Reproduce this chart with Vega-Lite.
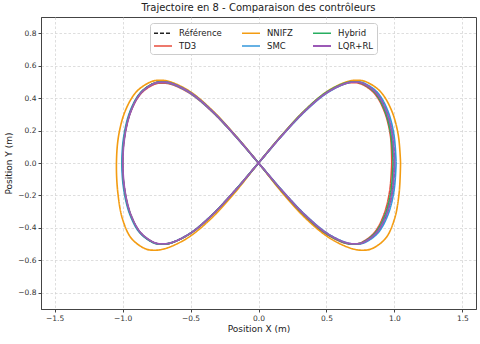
{
  "$schema": "https://vega.github.io/schema/vega-lite/v6.json",
  "width": 435,
  "height": 292,
  "autosize": {"type": "none"},
  "padding": {"left": 41, "top": 17, "right": 4, "bottom": 35},
  "background": "white",
  "title": {"text": "Trajectoire en 8 - Comparaison des contrôleurs", "fontSize": 10, "font": "DejaVu Sans", "fontWeight": "normal", "color": "#222", "offset": 4, "anchor": "middle"},
  "config": {
    "font": "DejaVu Sans",
    "view": {"stroke": "#444", "strokeWidth": 1},
    "axis": {"labelFontSize": 7.5, "labelColor": "#333", "titleFontSize": 9, "titleFontWeight": "normal", "titleColor": "#222", "tickColor": "#444", "tickSize": 3, "domainColor": "#444", "gridColor": "#d0d0d0", "gridDash": [2.5, 2], "gridWidth": 0.7}
  },
  "data": {"values": [
    {"s":"Référence","i":0,"x":1,"y":0},{"s":"Référence","i":1,"x":0.9848,"y":0.171},{"s":"Référence","i":2,"x":0.9397,"y":0.3214},{"s":"Référence","i":3,"x":0.866,"y":0.433},{"s":"Référence","i":4,"x":0.766,"y":0.4924},{"s":"Référence","i":5,"x":0.7071,"y":0.5},{"s":"Référence","i":6,"x":0.6428,"y":0.4924},{"s":"Référence","i":7,"x":0.5,"y":0.433},{"s":"Référence","i":8,"x":0.342,"y":0.3214},{"s":"Référence","i":9,"x":0.1736,"y":0.171},{"s":"Référence","i":10,"x":0,"y":0},{"s":"Référence","i":11,"x":-0.1736,"y":-0.171},{"s":"Référence","i":12,"x":-0.342,"y":-0.3214},{"s":"Référence","i":13,"x":-0.5,"y":-0.433},{"s":"Référence","i":14,"x":-0.6428,"y":-0.4924},{"s":"Référence","i":15,"x":-0.7071,"y":-0.5},{"s":"Référence","i":16,"x":-0.766,"y":-0.4924},{"s":"Référence","i":17,"x":-0.866,"y":-0.433},{"s":"Référence","i":18,"x":-0.9397,"y":-0.3214},{"s":"Référence","i":19,"x":-0.9848,"y":-0.171},{"s":"Référence","i":20,"x":-1,"y":0},{"s":"Référence","i":21,"x":-0.9848,"y":0.171},{"s":"Référence","i":22,"x":-0.9397,"y":0.3214},{"s":"Référence","i":23,"x":-0.866,"y":0.433},{"s":"Référence","i":24,"x":-0.766,"y":0.4924},{"s":"Référence","i":25,"x":-0.7071,"y":0.5},{"s":"Référence","i":26,"x":-0.6428,"y":0.4924},{"s":"Référence","i":27,"x":-0.5,"y":0.433},{"s":"Référence","i":28,"x":-0.342,"y":0.3214},{"s":"Référence","i":29,"x":-0.1736,"y":0.171},{"s":"Référence","i":30,"x":0,"y":0},{"s":"Référence","i":31,"x":0.1736,"y":-0.171},{"s":"Référence","i":32,"x":0.342,"y":-0.3214},{"s":"Référence","i":33,"x":0.5,"y":-0.433},{"s":"Référence","i":34,"x":0.6428,"y":-0.4924},{"s":"Référence","i":35,"x":0.7071,"y":-0.5},{"s":"Référence","i":36,"x":0.766,"y":-0.4924},{"s":"Référence","i":37,"x":0.866,"y":-0.433},{"s":"Référence","i":38,"x":0.9397,"y":-0.3214},{"s":"Référence","i":39,"x":0.9848,"y":-0.171},{"s":"Référence","i":40,"x":1,"y":0},

    {"s":"NNIFZ","i":0,"x":1.045,"y":0},{"s":"NNIFZ","i":1,"x":1.0278,"y":0.1744},{"s":"NNIFZ","i":2,"x":0.977,"y":0.3278},{"s":"NNIFZ","i":3,"x":0.8952,"y":0.4417},{"s":"NNIFZ","i":4,"x":0.7862,"y":0.5022},{"s":"NNIFZ","i":5,"x":0.723,"y":0.51},{"s":"NNIFZ","i":6,"x":0.6548,"y":0.5022},{"s":"NNIFZ","i":7,"x":0.5056,"y":0.4417},{"s":"NNIFZ","i":8,"x":0.3438,"y":0.3278},{"s":"NNIFZ","i":9,"x":0.1738,"y":0.1744},{"s":"NNIFZ","i":10,"x":0,"y":0},{"s":"NNIFZ","i":11,"x":-0.1751,"y":-0.1838},{"s":"NNIFZ","i":12,"x":-0.3523,"y":-0.3455},{"s":"NNIFZ","i":13,"x":-0.5281,"y":-0.4655},{"s":"NNIFZ","i":14,"x":-0.6922,"y":-0.5293},{"s":"NNIFZ","i":15,"x":-0.7654,"y":-0.5375},{"s":"NNIFZ","i":16,"x":-0.8308,"y":-0.5293},{"s":"NNIFZ","i":17,"x":-0.9342,"y":-0.4655},{"s":"NNIFZ","i":18,"x":-1.0003,"y":-0.3455},{"s":"NNIFZ","i":19,"x":-1.0346,"y":-0.1838},{"s":"NNIFZ","i":20,"x":-1.045,"y":0},{"s":"NNIFZ","i":21,"x":-1.0278,"y":0.1744},{"s":"NNIFZ","i":22,"x":-0.977,"y":0.3278},{"s":"NNIFZ","i":23,"x":-0.8952,"y":0.4417},{"s":"NNIFZ","i":24,"x":-0.7862,"y":0.5022},{"s":"NNIFZ","i":25,"x":-0.723,"y":0.51},{"s":"NNIFZ","i":26,"x":-0.6548,"y":0.5022},{"s":"NNIFZ","i":27,"x":-0.5056,"y":0.4417},{"s":"NNIFZ","i":28,"x":-0.3438,"y":0.3278},{"s":"NNIFZ","i":29,"x":-0.1738,"y":0.1744},{"s":"NNIFZ","i":30,"x":0,"y":0},{"s":"NNIFZ","i":31,"x":0.1751,"y":-0.1838},{"s":"NNIFZ","i":32,"x":0.3523,"y":-0.3455},{"s":"NNIFZ","i":33,"x":0.5281,"y":-0.4655},{"s":"NNIFZ","i":34,"x":0.6922,"y":-0.5293},{"s":"NNIFZ","i":35,"x":0.7654,"y":-0.5375},{"s":"NNIFZ","i":36,"x":0.8308,"y":-0.5293},{"s":"NNIFZ","i":37,"x":0.9342,"y":-0.4655},{"s":"NNIFZ","i":38,"x":1.0003,"y":-0.3455},{"s":"NNIFZ","i":39,"x":1.0346,"y":-0.1838},{"s":"NNIFZ","i":40,"x":1.045,"y":0},

    {"s":"TD3","i":0,"x":0.98,"y":0},{"s":"TD3","i":1,"x":0.97,"y":0.1693},{"s":"TD3","i":2,"x":0.9256,"y":0.3182},{"s":"TD3","i":3,"x":0.853,"y":0.4287},{"s":"TD3","i":4,"x":0.7545,"y":0.4875},{"s":"TD3","i":5,"x":0.6965,"y":0.495},{"s":"TD3","i":6,"x":0.6332,"y":0.4875},{"s":"TD3","i":7,"x":0.4925,"y":0.4287},{"s":"TD3","i":8,"x":0.3369,"y":0.3182},{"s":"TD3","i":9,"x":0.171,"y":0.1693},{"s":"TD3","i":10,"x":0,"y":0},{"s":"TD3","i":11,"x":-0.1736,"y":-0.171},{"s":"TD3","i":12,"x":-0.342,"y":-0.3214},{"s":"TD3","i":13,"x":-0.5,"y":-0.433},{"s":"TD3","i":14,"x":-0.6428,"y":-0.4924},{"s":"TD3","i":15,"x":-0.7071,"y":-0.5},{"s":"TD3","i":16,"x":-0.766,"y":-0.4924},{"s":"TD3","i":17,"x":-0.866,"y":-0.433},{"s":"TD3","i":18,"x":-0.9397,"y":-0.3214},{"s":"TD3","i":19,"x":-0.9848,"y":-0.171},{"s":"TD3","i":20,"x":-1,"y":0},{"s":"TD3","i":21,"x":-0.9848,"y":0.1684},{"s":"TD3","i":22,"x":-0.9397,"y":0.3166},{"s":"TD3","i":23,"x":-0.866,"y":0.4265},{"s":"TD3","i":24,"x":-0.766,"y":0.485},{"s":"TD3","i":25,"x":-0.7071,"y":0.4925},{"s":"TD3","i":26,"x":-0.6428,"y":0.485},{"s":"TD3","i":27,"x":-0.5,"y":0.4265},{"s":"TD3","i":28,"x":-0.342,"y":0.3166},{"s":"TD3","i":29,"x":-0.1736,"y":0.1684},{"s":"TD3","i":30,"x":0,"y":0},{"s":"TD3","i":31,"x":0.1701,"y":-0.171},{"s":"TD3","i":32,"x":0.3352,"y":-0.3214},{"s":"TD3","i":33,"x":0.49,"y":-0.433},{"s":"TD3","i":34,"x":0.6299,"y":-0.4924},{"s":"TD3","i":35,"x":0.693,"y":-0.5},{"s":"TD3","i":36,"x":0.7507,"y":-0.4924},{"s":"TD3","i":37,"x":0.8487,"y":-0.433},{"s":"TD3","i":38,"x":0.9209,"y":-0.3214},{"s":"TD3","i":39,"x":0.9651,"y":-0.171},{"s":"TD3","i":40,"x":0.98,"y":0},

    {"s":"SMC","i":0,"x":1.012,"y":0},{"s":"SMC","i":1,"x":0.9966,"y":0.171},{"s":"SMC","i":2,"x":0.951,"y":0.3214},{"s":"SMC","i":3,"x":0.8764,"y":0.433},{"s":"SMC","i":4,"x":0.7752,"y":0.4924},{"s":"SMC","i":5,"x":0.7156,"y":0.5},{"s":"SMC","i":6,"x":0.6505,"y":0.4924},{"s":"SMC","i":7,"x":0.506,"y":0.433},{"s":"SMC","i":8,"x":0.3461,"y":0.3214},{"s":"SMC","i":9,"x":0.1757,"y":0.171},{"s":"SMC","i":10,"x":0,"y":0},{"s":"SMC","i":11,"x":-0.1745,"y":-0.171},{"s":"SMC","i":12,"x":-0.3437,"y":-0.3214},{"s":"SMC","i":13,"x":-0.5025,"y":-0.433},{"s":"SMC","i":14,"x":-0.646,"y":-0.4924},{"s":"SMC","i":15,"x":-0.7106,"y":-0.5},{"s":"SMC","i":16,"x":-0.7698,"y":-0.4924},{"s":"SMC","i":17,"x":-0.8703,"y":-0.433},{"s":"SMC","i":18,"x":-0.9444,"y":-0.3214},{"s":"SMC","i":19,"x":-0.9897,"y":-0.171},{"s":"SMC","i":20,"x":-1.005,"y":0},{"s":"SMC","i":21,"x":-0.9897,"y":0.1701},{"s":"SMC","i":22,"x":-0.9444,"y":0.3198},{"s":"SMC","i":23,"x":-0.8703,"y":0.4308},{"s":"SMC","i":24,"x":-0.7698,"y":0.4899},{"s":"SMC","i":25,"x":-0.7106,"y":0.4975},{"s":"SMC","i":26,"x":-0.646,"y":0.4899},{"s":"SMC","i":27,"x":-0.5025,"y":0.4308},{"s":"SMC","i":28,"x":-0.3437,"y":0.3198},{"s":"SMC","i":29,"x":-0.1745,"y":0.1701},{"s":"SMC","i":30,"x":0,"y":0},{"s":"SMC","i":31,"x":0.1757,"y":-0.171},{"s":"SMC","i":32,"x":0.3461,"y":-0.3214},{"s":"SMC","i":33,"x":0.506,"y":-0.433},{"s":"SMC","i":34,"x":0.6505,"y":-0.4924},{"s":"SMC","i":35,"x":0.7156,"y":-0.5},{"s":"SMC","i":36,"x":0.7752,"y":-0.4924},{"s":"SMC","i":37,"x":0.8764,"y":-0.433},{"s":"SMC","i":38,"x":0.951,"y":-0.3214},{"s":"SMC","i":39,"x":0.9966,"y":-0.171},{"s":"SMC","i":40,"x":1.012,"y":0},

    {"s":"Hybrid","i":0,"x":0.99,"y":0},{"s":"Hybrid","i":1,"x":0.975,"y":0.171},{"s":"Hybrid","i":2,"x":0.9303,"y":0.3214},{"s":"Hybrid","i":3,"x":0.8573,"y":0.433},{"s":"Hybrid","i":4,"x":0.7583,"y":0.4924},{"s":"Hybrid","i":5,"x":0.7,"y":0.5},{"s":"Hybrid","i":6,"x":0.6364,"y":0.4924},{"s":"Hybrid","i":7,"x":0.495,"y":0.433},{"s":"Hybrid","i":8,"x":0.3386,"y":0.3214},{"s":"Hybrid","i":9,"x":0.1719,"y":0.171},{"s":"Hybrid","i":10,"x":0,"y":0},{"s":"Hybrid","i":11,"x":-0.1736,"y":-0.171},{"s":"Hybrid","i":12,"x":-0.342,"y":-0.3214},{"s":"Hybrid","i":13,"x":-0.5,"y":-0.433},{"s":"Hybrid","i":14,"x":-0.6428,"y":-0.4924},{"s":"Hybrid","i":15,"x":-0.7071,"y":-0.5},{"s":"Hybrid","i":16,"x":-0.766,"y":-0.4924},{"s":"Hybrid","i":17,"x":-0.866,"y":-0.433},{"s":"Hybrid","i":18,"x":-0.9397,"y":-0.3214},{"s":"Hybrid","i":19,"x":-0.9848,"y":-0.171},{"s":"Hybrid","i":20,"x":-1,"y":0},{"s":"Hybrid","i":21,"x":-0.9848,"y":0.171},{"s":"Hybrid","i":22,"x":-0.9397,"y":0.3214},{"s":"Hybrid","i":23,"x":-0.866,"y":0.433},{"s":"Hybrid","i":24,"x":-0.766,"y":0.4924},{"s":"Hybrid","i":25,"x":-0.7071,"y":0.5},{"s":"Hybrid","i":26,"x":-0.6428,"y":0.4924},{"s":"Hybrid","i":27,"x":-0.5,"y":0.433},{"s":"Hybrid","i":28,"x":-0.342,"y":0.3214},{"s":"Hybrid","i":29,"x":-0.1736,"y":0.171},{"s":"Hybrid","i":30,"x":0,"y":0},{"s":"Hybrid","i":31,"x":0.1719,"y":-0.171},{"s":"Hybrid","i":32,"x":0.3386,"y":-0.3214},{"s":"Hybrid","i":33,"x":0.495,"y":-0.433},{"s":"Hybrid","i":34,"x":0.6364,"y":-0.4924},{"s":"Hybrid","i":35,"x":0.7,"y":-0.5},{"s":"Hybrid","i":36,"x":0.7583,"y":-0.4924},{"s":"Hybrid","i":37,"x":0.8573,"y":-0.433},{"s":"Hybrid","i":38,"x":0.9303,"y":-0.3214},{"s":"Hybrid","i":39,"x":0.975,"y":-0.171},{"s":"Hybrid","i":40,"x":0.99,"y":0},

    {"s":"LQR+RL","i":0,"x":1,"y":0},{"s":"LQR+RL","i":1,"x":0.9848,"y":0.1707},{"s":"LQR+RL","i":2,"x":0.9397,"y":0.3208},{"s":"LQR+RL","i":3,"x":0.866,"y":0.4321},{"s":"LQR+RL","i":4,"x":0.766,"y":0.4914},{"s":"LQR+RL","i":5,"x":0.7071,"y":0.499},{"s":"LQR+RL","i":6,"x":0.6428,"y":0.4914},{"s":"LQR+RL","i":7,"x":0.5,"y":0.4321},{"s":"LQR+RL","i":8,"x":0.342,"y":0.3208},{"s":"LQR+RL","i":9,"x":0.1736,"y":0.1707},{"s":"LQR+RL","i":10,"x":0,"y":0},{"s":"LQR+RL","i":11,"x":-0.1733,"y":-0.1707},{"s":"LQR+RL","i":12,"x":-0.3413,"y":-0.3208},{"s":"LQR+RL","i":13,"x":-0.499,"y":-0.4321},{"s":"LQR+RL","i":14,"x":-0.6415,"y":-0.4914},{"s":"LQR+RL","i":15,"x":-0.7057,"y":-0.499},{"s":"LQR+RL","i":16,"x":-0.7645,"y":-0.4914},{"s":"LQR+RL","i":17,"x":-0.8643,"y":-0.4321},{"s":"LQR+RL","i":18,"x":-0.9378,"y":-0.3208},{"s":"LQR+RL","i":19,"x":-0.9828,"y":-0.1707},{"s":"LQR+RL","i":20,"x":-0.998,"y":0},{"s":"LQR+RL","i":21,"x":-0.9828,"y":0.1707},{"s":"LQR+RL","i":22,"x":-0.9378,"y":0.3208},{"s":"LQR+RL","i":23,"x":-0.8643,"y":0.4321},{"s":"LQR+RL","i":24,"x":-0.7645,"y":0.4914},{"s":"LQR+RL","i":25,"x":-0.7057,"y":0.499},{"s":"LQR+RL","i":26,"x":-0.6415,"y":0.4914},{"s":"LQR+RL","i":27,"x":-0.499,"y":0.4321},{"s":"LQR+RL","i":28,"x":-0.3413,"y":0.3208},{"s":"LQR+RL","i":29,"x":-0.1733,"y":0.1707},{"s":"LQR+RL","i":30,"x":0,"y":0},{"s":"LQR+RL","i":31,"x":0.1736,"y":-0.1707},{"s":"LQR+RL","i":32,"x":0.342,"y":-0.3208},{"s":"LQR+RL","i":33,"x":0.5,"y":-0.4321},{"s":"LQR+RL","i":34,"x":0.6428,"y":-0.4914},{"s":"LQR+RL","i":35,"x":0.7071,"y":-0.499},{"s":"LQR+RL","i":36,"x":0.766,"y":-0.4914},{"s":"LQR+RL","i":37,"x":0.866,"y":-0.4321},{"s":"LQR+RL","i":38,"x":0.9397,"y":-0.3208},{"s":"LQR+RL","i":39,"x":0.9848,"y":-0.1707},{"s":"LQR+RL","i":40,"x":1,"y":0}
  ]},
  "mark": {"type": "line", "interpolate": "catmull-rom", "clip": true},
  "encoding": {
    "x": {"field": "x", "type": "quantitative", "title": "Position X (m)", "scale": {"domain": [-1.6, 1.6], "nice": false, "zero": false}, "axis": {"values": [-1.5, -1.0, -0.5, 0.0, 0.5, 1.0, 1.5], "format": ".1f", "titlePadding": 3}},
    "y": {"field": "y", "type": "quantitative", "title": "Position Y (m)", "scale": {"domain": [-0.9, 0.9], "nice": false, "zero": false}, "axis": {"values": [-0.8, -0.6, -0.4, -0.2, 0.0, 0.2, 0.4, 0.6, 0.8], "format": ".1f", "titlePadding": 4}},
    "order": {"field": "i", "type": "quantitative"},
    "color": {"field": "s", "type": "nominal",
      "scale": {"domain": ["Référence", "TD3", "NNIFZ", "SMC", "Hybrid", "LQR+RL"], "range": ["#222222", "#e74c3c", "#f39c12", "#3498db", "#27ae60", "#9b59b6"]},
      "legend": {"title": null, "orient": "none", "legendX": 109, "legendY": 6, "columns": 3, "symbolType": "M-1,0H2", "symbolSize": 144, "symbolStrokeWidth": 2, "labelFontSize": 8.5, "labelColor": "#222", "labelOffset": 12, "columnPadding": 16, "rowPadding": 1, "padding": 3, "fillColor": "white", "strokeColor": "#cccccc", "cornerRadius": 3}},
    "strokeDash": {"field": "s", "type": "nominal",
      "scale": {"domain": ["Référence", "TD3", "NNIFZ", "SMC", "Hybrid", "LQR+RL"], "range": [[4, 2], [1, 0], [1, 0], [1, 0], [1, 0], [1, 0]]},
      "legend": {"title": null, "orient": "none", "legendX": 109, "legendY": 6, "columns": 3, "symbolType": "M-1,0H2", "symbolSize": 144, "symbolStrokeWidth": 2, "labelFontSize": 8.5, "labelColor": "#222", "labelOffset": 12, "columnPadding": 16, "rowPadding": 1, "padding": 3, "fillColor": "white", "strokeColor": "#cccccc", "cornerRadius": 3}},
    "strokeWidth": {"field": "s", "type": "nominal", "legend": null,
      "scale": {"domain": ["Référence", "TD3", "NNIFZ", "SMC", "Hybrid", "LQR+RL"], "range": [1.5, 1.8, 1.8, 1.8, 1.8, 2.6]}}
  }
}
